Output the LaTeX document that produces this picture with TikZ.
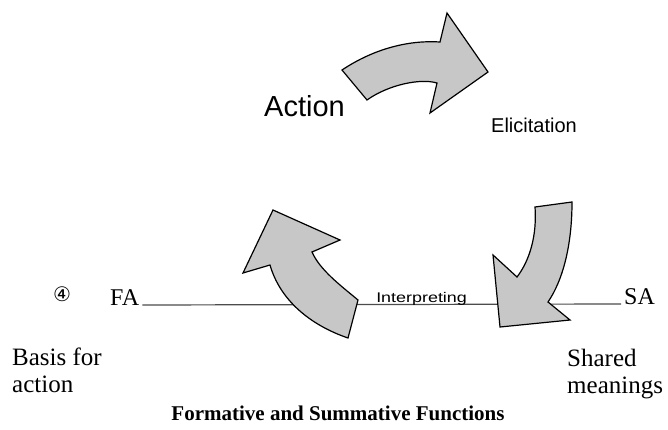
\documentclass[tikz,border=0pt]{standalone}
\usepackage{fontspec}
\setmainfont{Liberation Serif}
\setsansfont{Liberation Sans}
\newfontfamily\circfont{DejaVu Sans}

\begin{document}
\begin{tikzpicture}[
    x = 1pt,
    y = -1pt,
    bigarrow/.style = {
      draw,
      fill = black!22,
      line width = 1.2pt,
      line join = miter
    },
    serif/.style = {
      inner sep = 0pt,
      anchor = base west,
      font = \fontsize{24}{26}\selectfont
    },
    sanslabel/.style = {
      inner sep = 0pt,
      anchor = base west,
      font = \sffamily
    }
  ]
  \useasboundingbox (0,0) rectangle (668,430);

  % the axis
  \node[serif, inner xsep = 3pt] (fa) at (107,305) {FA};
  \node[serif, inner xsep = 3pt] (sa) at (621,304) {SA};
  \draw[black!70, line width = 1.2pt] (fa.base east) -- (sa.base west);
  \node[sanslabel, font = \sffamily\fontsize{14}{16}\selectfont, xscale = 1.28] (interp) at (376,302) {Interpreting};

  \node[inner sep = 0pt, font = \circfont\fontsize{20}{22}\selectfont] (num) at (62,294) {④};

  % the three arrows
  \draw[bigarrow] (342,70) .. controls (375,48) and (410,40) .. (440,42)
    -- (447,13) -- (488,72) -- (430,113) -- (437,83)
    .. controls (420,78) and (388,85) .. (367,100) -- cycle;
  \draw[bigarrow] (535,207) -- (572,202)
    .. controls (572,245) and (563,280) .. (548,302)
    -- (570,320) -- (500,327) -- (493,255) -- (517,277)
    .. controls (530,260) and (537,235) .. (535,207) -- cycle;
  \draw[bigarrow] (348,338) -- (358,300)
    .. controls (340,285) and (320,270) .. (312,252)
    -- (340,240) -- (273,210) -- (243,273) -- (270,265)
    .. controls (280,300) and (310,325) .. (348,338) -- cycle;

  % labels
  \node[sanslabel, font = \sffamily\fontsize{29}{32}\selectfont] (act) at (264,117) {Action};
  \node[sanslabel, font = \sffamily\fontsize{20}{22}\selectfont] (elic) at (491,133) {Elicitation};

  \node[serif, font = \fontsize{25}{27}\selectfont] (basis) at (12,365) {Basis for};
  \node[serif, font = \fontsize{25}{27}\selectfont] (basisb) at (12,392) {action};
  \node[serif, font = \fontsize{25}{27}\selectfont] (shared) at (567,366) {Shared};
  \node[serif, font = \fontsize{25}{27}\selectfont] (sharedb) at (567,393) {meanings};

  \node[inner sep = 0pt, anchor = base, font = \bfseries\fontsize{21}{23}\selectfont] (title) at (338,420) {Formative and Summative Functions};
\end{tikzpicture}
\end{document}
